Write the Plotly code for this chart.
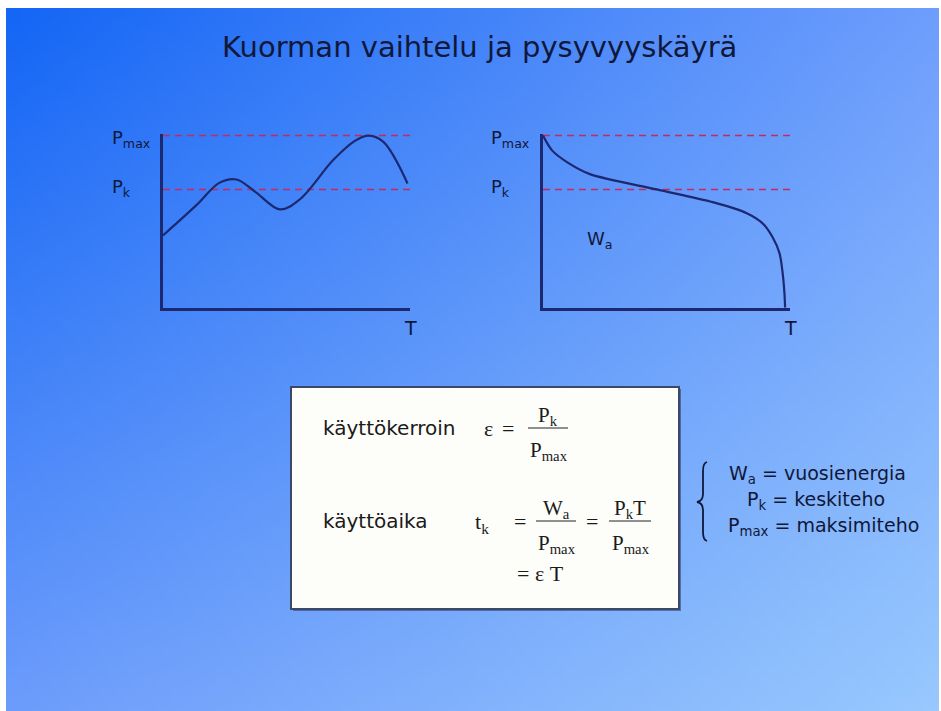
import base64
import struct
import zlib

import plotly.graph_objects as go

# ---- data -------------------------------------------------------------
P_MAX = 1.0
P_K = 0.687

# load variation over the period T (left panel)
load_t = [0.0, 0.14, 0.23, 0.30, 0.38, 0.478, 0.56, 0.694, 0.78, 0.837, 0.90, 1.0]
load_p = [0.42, 0.60, 0.725, 0.745, 0.67, 0.571, 0.63, 0.855, 0.965, 1.0, 0.965, 0.722]

# load duration curve (right panel)
dur_t = [0.0, 0.037, 0.098, 0.192, 0.465, 0.694, 0.833, 0.898, 0.939,
         0.967, 0.980, 0.987, 0.99]
dur_p = [1.0, 0.914, 0.846, 0.776, 0.687, 0.613, 0.549, 0.490, 0.409,
         0.317, 0.201, 0.09, 0.0]

W, H = 941, 711
NAVY = "#1c2870"
DASH = "#c42a62"
TXT = "#10183a"
SANS = "DejaVu Sans"
SERIF = "Liberation Serif"


def px(x):
    return x / W


def py(y):
    return 1 - y / H


# ---- gradient backdrop as a tiny PNG ---------------------------------
def gradient_png(w, h, tl, tr, bl, br):
    rows = []
    for j in range(h):
        v = j / (h - 1)
        row = bytearray([0])
        for i in range(w):
            u = i / (w - 1)
            for c in range(3):
                top = tl[c] * (1 - u) + tr[c] * u
                bot = bl[c] * (1 - u) + br[c] * u
                row.append(int(round(top * (1 - v) + bot * v)))
        rows.append(bytes(row))
    raw = b"".join(rows)

    def chunk(tag, data):
        body = tag + data
        return struct.pack(">I", len(data)) + body + struct.pack(">I", zlib.crc32(body) & 0xFFFFFFFF)

    png = b"\x89PNG\r\n\x1a\n"
    png += chunk(b"IHDR", struct.pack(">IIBBBBB", w, h, 8, 2, 0, 0, 0))
    png += chunk(b"IDAT", zlib.compress(raw, 9))
    png += chunk(b"IEND", b"")
    return "data:image/png;base64," + base64.b64encode(png).decode()


bg_src = gradient_png(96, 72, (20, 102, 245), (110, 158, 252),
                      (108, 156, 251), (152, 200, 253))

fig = go.Figure()

# ---- reference levels and curves --------------------------------------
for xa, ya in (("x", "y"), ("x2", "y2")):
    for level in (P_MAX, P_K):
        fig.add_trace(go.Scatter(
            x=[0, 1.01], y=[level, level], xaxis=xa, yaxis=ya, mode="lines",
            line=dict(color=DASH, width=1.5, dash="7px,5px"),
            hoverinfo="skip", showlegend=False))

fig.add_trace(go.Scatter(
    x=load_t, y=load_p, xaxis="x", yaxis="y", mode="lines",
    line=dict(color=NAVY, width=2.2, shape="spline", smoothing=1.0),
    showlegend=False))

fig.add_trace(go.Scatter(
    x=dur_t, y=dur_p, xaxis="x2", yaxis="y2", mode="lines",
    line=dict(color=NAVY, width=2.2, shape="spline", smoothing=0.8),
    showlegend=False))

axis_common = dict(showline=True, linecolor=NAVY, linewidth=3, showgrid=False,
                   zeroline=False, showticklabels=False, ticks="", fixedrange=True)
ydom = [py(307.7), py(133.5)]

annotations = [
    dict(text="Kuorman vaihtelu ja pysyvyyskäyrä", x=px(479), y=py(47),
         font=dict(family=SANS, size=29, color=TXT)),
    dict(text="T", x=px(410), y=py(328), font=dict(family=SANS, size=19, color=TXT)),
    dict(text="T", x=px(790), y=py(328), font=dict(family=SANS, size=19, color=TXT)),
    dict(text="W<sub>a</sub>", x=px(600), y=py(240), font=dict(family=SANS, size=18, color=TXT)),
]
for x0 in (110, 489):
    annotations.append(dict(text="P<sub>max</sub>", x=px(x0), y=py(139), xanchor="left",
                            font=dict(family=SANS, size=18, color=TXT)))
    annotations.append(dict(text="P<sub>k</sub>", x=px(x0), y=py(188), xanchor="left",
                            font=dict(family=SANS, size=18, color=TXT)))

# ---- formula box ------------------------------------------------------
box_l, box_r, box_t, box_b = 291, 679, 387, 609
shapes = [
    dict(type="rect", xref="paper", yref="paper", x0=px(box_l + 2), x1=px(box_r + 2),
         y0=py(box_b + 2), y1=py(box_t + 2), line=dict(width=0),
         fillcolor="rgba(20,30,70,0.45)", layer="above"),
    dict(type="rect", xref="paper", yref="paper", x0=px(box_l), x1=px(box_r),
         y0=py(box_b), y1=py(box_t), line=dict(color="#3c4866", width=2),
         fillcolor="#fdfdfa", layer="above"),
]


def frac_bar(x0, x1, y):
    return dict(type="line", xref="paper", yref="paper", x0=px(x0), x1=px(x1),
                y0=py(y), y1=py(y), line=dict(color="#222", width=1), layer="above")


shapes += [frac_bar(528, 568, 428), frac_bar(536, 576, 521), frac_bar(609, 651, 521)]

BOXTXT = "#1a1a1a"
sans_box = dict(family=SANS, size=20, color=BOXTXT)
serif_box = dict(family=SERIF, size=22, color=BOXTXT)
serif_sub = dict(family=SERIF, size=21, color=BOXTXT)
annotations += [
    dict(text="käyttökerroin", x=px(321), y=py(428), xanchor="left", font=sans_box),
    dict(text="ε", x=px(488), y=py(428), font=serif_box),
    dict(text="=", x=px(508), y=py(428), font=serif_box),
    dict(text="P<sub>k</sub>", x=px(548), y=py(416), font=serif_sub),
    dict(text="P<sub>max</sub>", x=px(549), y=py(451), font=serif_sub),
    dict(text="käyttöaika", x=px(321), y=py(521), xanchor="left", font=sans_box),
    dict(text="t<sub>k</sub>", x=px(482), y=py(523), font=serif_box),
    dict(text="=", x=px(520), y=py(521), font=serif_box),
    dict(text="W<sub>a</sub>", x=px(556), y=py(509), font=serif_sub),
    dict(text="P<sub>max</sub>", x=px(557), y=py(544), font=serif_sub),
    dict(text="=", x=px(592), y=py(521), font=serif_box),
    dict(text="P<sub>k</sub>T", x=px(630), y=py(509), font=serif_sub),
    dict(text="P<sub>max</sub>", x=px(631), y=py(544), font=serif_sub),
    dict(text="= ε T", x=px(540), y=py(573), font=serif_box),
]

# ---- symbol legend with brace ------------------------------------------
leg_font = dict(family=SANS, size=19, color=TXT)
annotations += [
    dict(text="W<sub>a</sub> = vuosienergia", x=px(817), y=py(474), font=leg_font),
    dict(text="P<sub>k</sub> = keskiteho", x=px(816), y=py(500), font=leg_font),
    dict(text="P<sub>max</sub> = maksimiteho", x=px(823), y=py(526), font=leg_font),
]


def brace_path(xr, xm, ytop, ymid, ybot):
    pts = [
        ("M", [(xr, ytop)]),
        ("Q", [(xm + 3, ytop + 1), (xm + 3, ytop + 9)]),
        ("L", [(xm + 3, ymid - 8)]),
        ("Q", [(xm + 3, ymid - 1), (xm - 3, ymid)]),
        ("Q", [(xm + 3, ymid + 1), (xm + 3, ymid + 8)]),
        ("L", [(xm + 3, ybot - 9)]),
        ("Q", [(xm + 3, ybot - 1), (xr, ybot)]),
    ]
    out = []
    for cmd, coords in pts:
        out.append(cmd + " " + " ".join(f"{px(a):.5f},{py(b):.5f}" for a, b in coords))
    return " ".join(out)


shapes.append(dict(type="path", xref="paper", yref="paper",
                   path=brace_path(707, 700, 462, 502, 541),
                   line=dict(color=TXT, width=1.8), layer="above"))

for a in annotations:
    a.setdefault("showarrow", False)
    a.setdefault("xref", "paper")
    a.setdefault("yref", "paper")
    a.setdefault("xanchor", "center")
    a.setdefault("yanchor", "middle")

fig.update_layout(
    width=W, height=H,
    margin=dict(l=0, r=0, t=0, b=0),
    paper_bgcolor="white",
    plot_bgcolor="rgba(0,0,0,0)",
    showlegend=False,
    xaxis=dict(domain=[px(163), px(410)], range=[0, 1.01], anchor="y", **axis_common),
    yaxis=dict(domain=ydom, range=[0, 1.012], anchor="x", **axis_common),
    xaxis2=dict(domain=[px(543), px(790)], range=[0, 1.01], anchor="y2", **axis_common),
    yaxis2=dict(domain=ydom, range=[0, 1.012], anchor="x2", **axis_common),
    images=[dict(source=bg_src, xref="paper", yref="paper", x=px(6), y=py(8),
                 sizex=px(939) - px(6), sizey=py(8) - py(711),
                 xanchor="left", yanchor="top", sizing="stretch", layer="below")],
    shapes=shapes,
    annotations=annotations,
)

fig.write_html("out.html")
